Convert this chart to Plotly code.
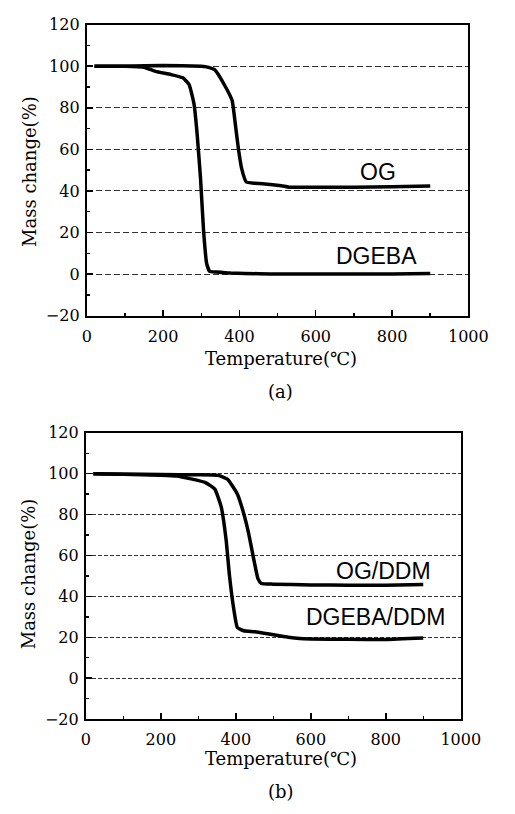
import plotly.graph_objects as go

# ---- data (a) ----
dgeba_T = [20, 100, 150, 180, 220, 252, 268, 281, 289, 298, 306, 314, 322, 340, 377, 450, 510, 600, 700, 800, 900]
dgeba_M = [100, 100, 99.5, 97.5, 96, 94.4, 91.2, 81.8, 67.7, 46, 20.8, 5.2, 1.3, 1.0, 0.5, 0.2, 0, 0, 0, 0, 0.3]
og_T = [20, 100, 200, 300, 310, 335, 360, 381, 389, 397.5, 406, 418, 440, 460, 510, 530, 600, 700, 800, 900]
og_M = [100, 100, 100.3, 100, 99.8, 98.3, 91.2, 83.4, 72.4, 60, 50.6, 44.3, 43.7, 43.5, 42.5, 41.8, 41.8, 41.8, 42.0, 42.4]

# ---- data (b) ----
dgebaddm_T = [20, 100, 200, 242, 280, 319, 344, 361, 374, 383, 394, 404, 421, 450, 489, 520, 540, 570, 600, 700, 800, 900]
dgebaddm_M = [100, 99.8, 99.3, 98.9, 97.5, 95.7, 92.5, 83.8, 67.8, 50.3, 34.4, 24.8, 23.2, 22.7, 21.6, 20.6, 20.0, 19.4, 19.2, 19.0, 18.9, 19.6]
ogddm_T = [20, 100, 200, 300, 353, 378, 404, 421, 434, 446, 459, 468, 500, 600, 700, 800, 900]
ogddm_M = [100, 99.8, 99.6, 99.5, 99.2, 97.3, 90.1, 80.6, 71, 59.9, 48.7, 46.3, 46.0, 45.6, 45.5, 45.4, 45.8]

x_ticks = [0, 200, 400, 600, 800, 1000]
y_ticks = [-20, 0, 20, 40, 60, 80, 100, 120]
x_title = "Temperature(℃)"
y_title = "Mass change(%)"

W, H = 515, 814
def px(x): return x / W
def py(y): return 1 - y / H

fig = go.Figure()
line = dict(color="black", width=3.5, shape="spline", smoothing=0.4)
fig.add_trace(go.Scatter(x=dgeba_T, y=dgeba_M, mode="lines", line=line, xaxis="x", yaxis="y", showlegend=False, hoverinfo="skip"))
fig.add_trace(go.Scatter(x=og_T, y=og_M, mode="lines", line=line, xaxis="x", yaxis="y", showlegend=False, hoverinfo="skip"))
fig.add_trace(go.Scatter(x=dgebaddm_T, y=dgebaddm_M, mode="lines", line=line, xaxis="x2", yaxis="y2", showlegend=False, hoverinfo="skip"))
fig.add_trace(go.Scatter(x=ogddm_T, y=ogddm_M, mode="lines", line=line, xaxis="x2", yaxis="y2", showlegend=False, hoverinfo="skip"))

tickfont = dict(family="DejaVu Serif", size=16, color="black")

def xax(domain, anchor):
    return dict(domain=domain, anchor=anchor, range=[0, 1000], tickvals=x_ticks,
                showline=True, linewidth=2, linecolor="black", mirror=True,
                ticks="inside", ticklen=6, tickwidth=1.5, tickcolor="black",
                minor=dict(ticks="inside", ticklen=3, dtick=100, tickcolor="black", tickwidth=1.5, showgrid=False),
                showgrid=False, zeroline=False, tickfont=tickfont, ticklabelstandoff=5)

def yax(domain, anchor, dash):
    return dict(domain=domain, anchor=anchor, range=[-20, 120], tickvals=y_ticks,
                showline=True, linewidth=2, linecolor="black", mirror=True,
                ticks="inside", ticklen=6, tickwidth=1.5, tickcolor="black",
                minor=dict(ticks="inside", ticklen=3, dtick=10, tickcolor="black", tickwidth=1.5, showgrid=False),
                showgrid=True, gridcolor="#333333", gridwidth=1, griddash=dash,
                zeroline=False, tickfont=tickfont, ticklabelstandoff=2)

fig.update_layout(
    width=W, height=H, margin=dict(l=0, r=0, t=0, b=0),
    paper_bgcolor="white", plot_bgcolor="white",
    xaxis=xax([px(86), px(487)], "y"),
    yaxis=yax([py(314), py(16)], "x", "6px,3px"),
    xaxis2=xax([px(85), px(479)], "y2"),
    yaxis2=yax([py(727), py(434)], "x2", "4px,2px"),
)

serif = dict(family="DejaVu Serif", size=18, color="black")
sans = dict(family="Liberation Sans", size=23, color="black")
anns = [
    dict(x=px(290), y=py(358), text=x_title, font=serif),
    dict(x=px(290), y=py(392), text="(a)", font=serif),
    dict(x=px(25), y=py(166), text=y_title, font=serif, textangle=-90),
    dict(x=px(290), y=py(767), text=x_title, font=serif),
    dict(x=px(290), y=py(801), text="(b)", font=serif),
    dict(x=px(25), y=py(578), text=y_title, font=serif, textangle=-90),
    dict(x=px(392), y=py(167), text="OG", font=sans),
    dict(x=px(390), y=py(253), text="DGEBA", font=sans),
    dict(x=px(398), y=py(575), text="OG/DDM", font=sans),
    dict(x=px(389), y=py(623), text="DGEBA/DDM", font=sans),
]
for a in anns:
    a.update(xref="paper", yref="paper", showarrow=False, xanchor="center", yanchor="middle")
fig.update_layout(annotations=anns)

fig.write_html("out.html", config={"displayModeBar": False, "staticPlot": True},
               post_script="document.body.style.margin='0';document.body.style.overflow='hidden';")
